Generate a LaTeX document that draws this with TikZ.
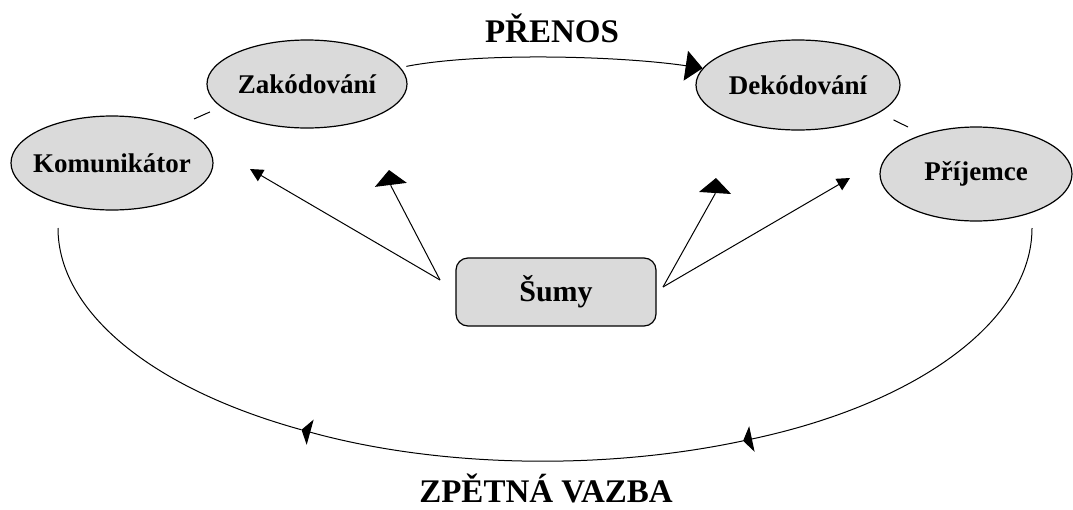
\documentclass[tikz,border=0pt]{standalone}
\usepackage{fontspec}
\setmainfont{Liberation Serif}
\usetikzlibrary{shapes.geometric,arrows.meta}
\definecolor{nodefill}{RGB}{218,218,218}
\tikzset{
 ell/.style={ellipse, draw=black, line width=1.2pt, fill=nodefill, inner sep=0pt, font=\bfseries\fontsize{27}{30}\selectfont},
 noisebox/.style={rectangle, rounded corners=12pt, draw=black, line width=1.2pt, fill=nodefill, minimum width=200pt, minimum height=68pt, font=\bfseries\fontsize{30}{34}\selectfont},
 lbl/.style={font=\bfseries\fontsize{33}{36}\selectfont, inner sep=0pt, anchor=base},
 conn/.style={line width=1pt, black},
 bigtip/.style={-{Triangle[length=17pt,width=30pt]}},
 midtip/.style={-{Triangle[length=15pt,width=32pt]}},
 smalltip/.style={-{Triangle[length=13pt,width=13pt]}},
 fbtip/.style={-{Triangle[length=9pt,width=26pt]}},
}
\begin{document}
\begin{tikzpicture}[x=1pt,y=-1pt]
\useasboundingbox (0,0) rectangle (1073,509);
\node[ell, minimum width=200pt, minimum height=88pt] (zak) at (307,84) {Zakódování};
\node[ell, minimum width=204pt, minimum height=90pt] (dek) at (798,85) {Dekódování};
\node[ell, minimum width=202pt, minimum height=94pt, inner xsep=-14pt] (kom) at (112,163) {Komunikátor};
\node[ell, minimum width=192pt, minimum height=94pt] (prij) at (976,174) {Příjemce};
\node[noisebox] (sumy) at (556,292) {Šumy};
\node[lbl] (prenos) at (552,42) {PŘENOS};
\node[lbl] (zpet) at (546,502) {ZPĚTNÁ VAZBA};

% transfer
\draw[conn, bigtip, shorten <=6pt] (zak.10) .. controls (480,52) and (620,56) .. (dek.170);
% short fragments
\coordinate (fragA) at (194,119);
\draw[conn, shorten <=12pt] (zak.195) -- (fragA);
\coordinate (fragB) at (908,127);
\draw[conn, shorten <=16pt] (dek.-19) -- (fragB);

% noise
\coordinate (nL) at (440,280);
\coordinate (nR) at (663,287);
\coordinate (t1) at (250,169);
\coordinate (bendA) at (391,186);
\coordinate (t2) at (389,170);
\coordinate (bendB) at (715,194);
\coordinate (t3) at (716,178);
\coordinate (t4) at (850,178);
\draw[conn, smalltip] (nL) -- (t1);
\draw[conn, midtip] (nL) -- (bendA) -- (t2);
\draw[conn, midtip] (nR) -- (bendB) -- (t3);
\draw[conn, smalltip] (nR) -- (t4);

% feedback
\coordinate (fbR) at (1032,228);
\draw[conn, fbtip] (fbR) arc[start angle=0, end angle=66, x radius=487, y radius=233] coordinate (m1);
\draw[conn, fbtip] (m1) arc[start angle=66, end angle=120, x radius=487, y radius=233] coordinate (m2);
\draw[conn] (m2) arc[start angle=120, end angle=180, x radius=487, y radius=233] coordinate (fbL);
\end{tikzpicture}
\end{document}
